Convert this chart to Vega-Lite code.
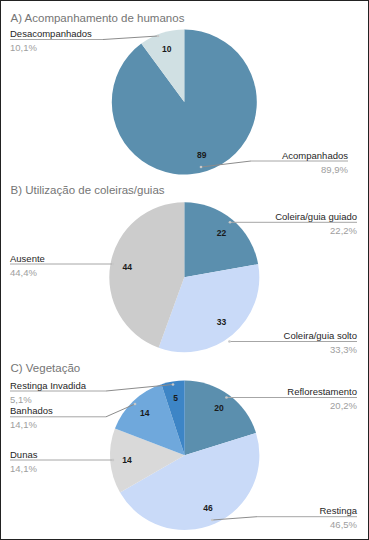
{
  "$schema": "https://vega.github.io/schema/vega-lite/v6.json",
  "width": 369,
  "height": 540,
  "autosize": {"type": "fit", "contains": "padding"},
  "padding": 0,
  "background": "white",
  "config": {
    "view": {"stroke": "#222222", "strokeWidth": 2},
    "text": {"font": "Liberation Sans"}
  },
  "datasets": {
    "slices": [
      {"chart": "A", "cat": "Acompanhados", "v": 89, "o": 1},
      {"chart": "A", "cat": "Desacompanhados", "v": 10, "o": 2},
      {"chart": "B", "cat": "Coleira/guia guiado", "v": 22, "o": 1},
      {"chart": "B", "cat": "Coleira/guia solto", "v": 33, "o": 2},
      {"chart": "B", "cat": "Ausente", "v": 44, "o": 3},
      {"chart": "C", "cat": "Reflorestamento", "v": 20, "o": 1},
      {"chart": "C", "cat": "Restinga", "v": 46, "o": 2},
      {"chart": "C", "cat": "Dunas", "v": 14, "o": 3},
      {"chart": "C", "cat": "Banhados", "v": 14, "o": 4},
      {"chart": "C", "cat": "Restinga Invadida", "v": 5, "o": 5}
    ],
    "labels": [
      {"cat": "Desacompanhados", "pct": "10,1%", "side": "L", "lx": 10, "ly": 39.5, "bx": 103, "px": 158, "py": 36},
      {"cat": "Acompanhados", "pct": "89,9%", "side": "R", "lx": 348, "ly": 161, "bx": 251, "px": 201, "py": 167},
      {"cat": "Coleira/guia guiado", "pct": "22,2%", "side": "R", "lx": 357, "ly": 222.3, "bx": 230, "px": 230, "py": 222.3},
      {"cat": "Coleira/guia solto", "pct": "33,3%", "side": "R", "lx": 357, "ly": 341.5, "bx": 229.5, "px": 229.5, "py": 341.5},
      {"cat": "Ausente", "pct": "44,4%", "side": "L", "lx": 10, "ly": 264, "bx": 113, "px": 113, "py": 264},
      {"cat": "Restinga Invadida", "pct": "5,1%", "side": "L", "lx": 10, "ly": 391, "bx": 106, "px": 173, "py": 384.5},
      {"cat": "Banhados", "pct": "14,1%", "side": "L", "lx": 10, "ly": 416.8, "bx": 106, "px": 135, "py": 404},
      {"cat": "Dunas", "pct": "14,1%", "side": "L", "lx": 10, "ly": 460, "bx": 113, "px": 113, "py": 460},
      {"cat": "Reflorestamento", "pct": "20,2%", "side": "R", "lx": 357, "ly": 397.5, "bx": 226.5, "px": 226.5, "py": 397.5},
      {"cat": "Restinga", "pct": "46,5%", "side": "R", "lx": 357, "ly": 516.7, "bx": 257, "px": 212.3, "py": 520}
    ],
    "titles": [
      {"t": "A) Acompanhamento de humanos", "tx": 10.5, "ty": 21.5},
      {"t": "B) Utilização de coleiras/guias", "tx": 10.5, "ty": 194},
      {"t": "C) Vegetação", "tx": 10.5, "ty": 372}
    ]
  },
  "layer": [
    {
      "data": {"name": "slices"},
      "transform": [{"filter": "datum.chart === 'A'"}],
      "mark": {"type": "arc", "radius": 72.5},
      "encoding": {
        "theta": {"field": "v", "type": "quantitative", "stack": true},
        "order": {"field": "o", "type": "quantitative"},
        "color": {"field": "cat", "type": "nominal", "legend": null,
          "scale": {"domain": ["Acompanhados", "Desacompanhados", "Coleira/guia guiado", "Coleira/guia solto", "Ausente", "Reflorestamento", "Restinga", "Dunas", "Banhados", "Restinga Invadida"],
                    "range": ["#5b8fae", "#d0e0e3", "#5b8fae", "#c9daf8", "#cccccc", "#5b8fae", "#c9daf8", "#d9d9d9", "#6fa8dc", "#3d85c6"]}},
        "x": {"datum": 184.3, "type": "quantitative", "scale": {"domain": [0, 369], "nice": false, "zero": false}, "axis": null},
        "y": {"datum": 102, "type": "quantitative", "scale": {"domain": [0, 540], "nice": false, "zero": false, "reverse": true}, "axis": null}
      }
    },
    {
      "data": {"name": "slices"},
      "transform": [{"filter": "datum.chart === 'B'"}],
      "mark": {"type": "arc", "radius": 75},
      "encoding": {
        "theta": {"field": "v", "type": "quantitative", "stack": true},
        "order": {"field": "o", "type": "quantitative"},
        "color": {"field": "cat", "type": "nominal", "legend": null},
        "x": {"datum": 184.3, "type": "quantitative", "scale": {"domain": [0, 369], "nice": false, "zero": false}, "axis": null},
        "y": {"datum": 277.2, "type": "quantitative", "scale": {"domain": [0, 540], "nice": false, "zero": false, "reverse": true}, "axis": null}
      }
    },
    {
      "data": {"name": "slices"},
      "transform": [{"filter": "datum.chart === 'C'"}],
      "mark": {"type": "arc", "radius": 74.7},
      "encoding": {
        "theta": {"field": "v", "type": "quantitative", "stack": true},
        "order": {"field": "o", "type": "quantitative"},
        "color": {"field": "cat", "type": "nominal", "legend": null},
        "x": {"datum": 184.7, "type": "quantitative", "scale": {"domain": [0, 369], "nice": false, "zero": false}, "axis": null},
        "y": {"datum": 455.2, "type": "quantitative", "scale": {"domain": [0, 540], "nice": false, "zero": false, "reverse": true}, "axis": null}
      }
    },
    {
      "data": {"name": "slices"},
      "transform": [{"filter": "datum.chart === 'A'"}],
      "mark": {"type": "text", "radius": 56, "fontSize": 8.5, "fontWeight": "bold", "color": "#1a1a1a"},
      "encoding": {
        "theta": {"field": "v", "type": "quantitative", "stack": true},
        "order": {"field": "o", "type": "quantitative"},
        "text": {"field": "v", "type": "quantitative"},
        "x": {"datum": 184.3, "type": "quantitative", "scale": {"domain": [0, 369], "nice": false, "zero": false}, "axis": null},
        "y": {"datum": 102, "type": "quantitative", "scale": {"domain": [0, 540], "nice": false, "zero": false, "reverse": true}, "axis": null}
      }
    },
    {
      "data": {"name": "slices"},
      "transform": [{"filter": "datum.chart === 'B'"}],
      "mark": {"type": "text", "radius": 58, "fontSize": 8.5, "fontWeight": "bold", "color": "#1a1a1a"},
      "encoding": {
        "theta": {"field": "v", "type": "quantitative", "stack": true},
        "order": {"field": "o", "type": "quantitative"},
        "text": {"field": "v", "type": "quantitative"},
        "x": {"datum": 184.3, "type": "quantitative", "scale": {"domain": [0, 369], "nice": false, "zero": false}, "axis": null},
        "y": {"datum": 277.2, "type": "quantitative", "scale": {"domain": [0, 540], "nice": false, "zero": false, "reverse": true}, "axis": null}
      }
    },
    {
      "data": {"name": "slices"},
      "transform": [{"filter": "datum.chart === 'C'"}],
      "mark": {"type": "text", "radius": 58, "fontSize": 8.5, "fontWeight": "bold", "color": "#1a1a1a"},
      "encoding": {
        "theta": {"field": "v", "type": "quantitative", "stack": true},
        "order": {"field": "o", "type": "quantitative"},
        "text": {"field": "v", "type": "quantitative"},
        "x": {"datum": 184.7, "type": "quantitative", "scale": {"domain": [0, 369], "nice": false, "zero": false}, "axis": null},
        "y": {"datum": 455.2, "type": "quantitative", "scale": {"domain": [0, 540], "nice": false, "zero": false, "reverse": true}, "axis": null}
      }
    },
    {
      "data": {"name": "labels"},
      "mark": {"type": "rule", "color": "#a6a6a6", "strokeWidth": 1},
      "encoding": {
        "x": {"field": "lx", "type": "quantitative", "scale": {"domain": [0, 369], "nice": false, "zero": false}, "axis": null},
        "x2": {"field": "bx"},
        "y": {"field": "ly", "type": "quantitative", "scale": {"domain": [0, 540], "nice": false, "zero": false, "reverse": true}, "axis": null},
        "y2": {"field": "ly"}
      }
    },
    {
      "data": {"name": "labels"},
      "mark": {"type": "rule", "color": "#8c8c8c", "strokeWidth": 1},
      "encoding": {
        "x": {"field": "bx", "type": "quantitative", "scale": {"domain": [0, 369], "nice": false, "zero": false}, "axis": null},
        "x2": {"field": "px"},
        "y": {"field": "ly", "type": "quantitative", "scale": {"domain": [0, 540], "nice": false, "zero": false, "reverse": true}, "axis": null},
        "y2": {"field": "py"}
      }
    },
    {
      "data": {"name": "labels"},
      "mark": {"type": "point", "filled": true, "size": 7, "color": "#c8c8c8", "opacity": 1},
      "encoding": {
        "x": {"field": "px", "type": "quantitative", "scale": {"domain": [0, 369], "nice": false, "zero": false}, "axis": null},
        "y": {"field": "py", "type": "quantitative", "scale": {"domain": [0, 540], "nice": false, "zero": false, "reverse": true}, "axis": null}
      }
    },
    {
      "data": {"name": "labels"},
      "transform": [{"filter": "datum.side === 'L'"}],
      "mark": {"type": "text", "align": "left", "baseline": "alphabetic", "dy": -2.5, "fontSize": 9.5, "color": "#1f1f1f"},
      "encoding": {
        "x": {"field": "lx", "type": "quantitative", "scale": {"domain": [0, 369], "nice": false, "zero": false}, "axis": null},
        "y": {"field": "ly", "type": "quantitative", "scale": {"domain": [0, 540], "nice": false, "zero": false, "reverse": true}, "axis": null},
        "text": {"field": "cat", "type": "nominal"}
      }
    },
    {
      "data": {"name": "labels"},
      "transform": [{"filter": "datum.side === 'R'"}],
      "mark": {"type": "text", "align": "right", "baseline": "alphabetic", "dy": -2.5, "fontSize": 9.5, "color": "#1f1f1f"},
      "encoding": {
        "x": {"field": "lx", "type": "quantitative", "scale": {"domain": [0, 369], "nice": false, "zero": false}, "axis": null},
        "y": {"field": "ly", "type": "quantitative", "scale": {"domain": [0, 540], "nice": false, "zero": false, "reverse": true}, "axis": null},
        "text": {"field": "cat", "type": "nominal"}
      }
    },
    {
      "data": {"name": "labels"},
      "transform": [{"filter": "datum.side === 'L'"}],
      "mark": {"type": "text", "align": "left", "baseline": "alphabetic", "dy": 11.5, "fontSize": 9.5, "color": "#9e9e9e"},
      "encoding": {
        "x": {"field": "lx", "type": "quantitative", "scale": {"domain": [0, 369], "nice": false, "zero": false}, "axis": null},
        "y": {"field": "ly", "type": "quantitative", "scale": {"domain": [0, 540], "nice": false, "zero": false, "reverse": true}, "axis": null},
        "text": {"field": "pct", "type": "nominal"}
      }
    },
    {
      "data": {"name": "labels"},
      "transform": [{"filter": "datum.side === 'R'"}],
      "mark": {"type": "text", "align": "right", "baseline": "alphabetic", "dy": 11.5, "fontSize": 9.5, "color": "#9e9e9e"},
      "encoding": {
        "x": {"field": "lx", "type": "quantitative", "scale": {"domain": [0, 369], "nice": false, "zero": false}, "axis": null},
        "y": {"field": "ly", "type": "quantitative", "scale": {"domain": [0, 540], "nice": false, "zero": false, "reverse": true}, "axis": null},
        "text": {"field": "pct", "type": "nominal"}
      }
    },
    {
      "data": {"name": "titles"},
      "mark": {"type": "text", "align": "left", "baseline": "alphabetic", "fontSize": 11.5, "color": "#757575"},
      "encoding": {
        "x": {"field": "tx", "type": "quantitative", "scale": {"domain": [0, 369], "nice": false, "zero": false}, "axis": null},
        "y": {"field": "ty", "type": "quantitative", "scale": {"domain": [0, 540], "nice": false, "zero": false, "reverse": true}, "axis": null},
        "text": {"field": "t", "type": "nominal"}
      }
    }
  ]
}
